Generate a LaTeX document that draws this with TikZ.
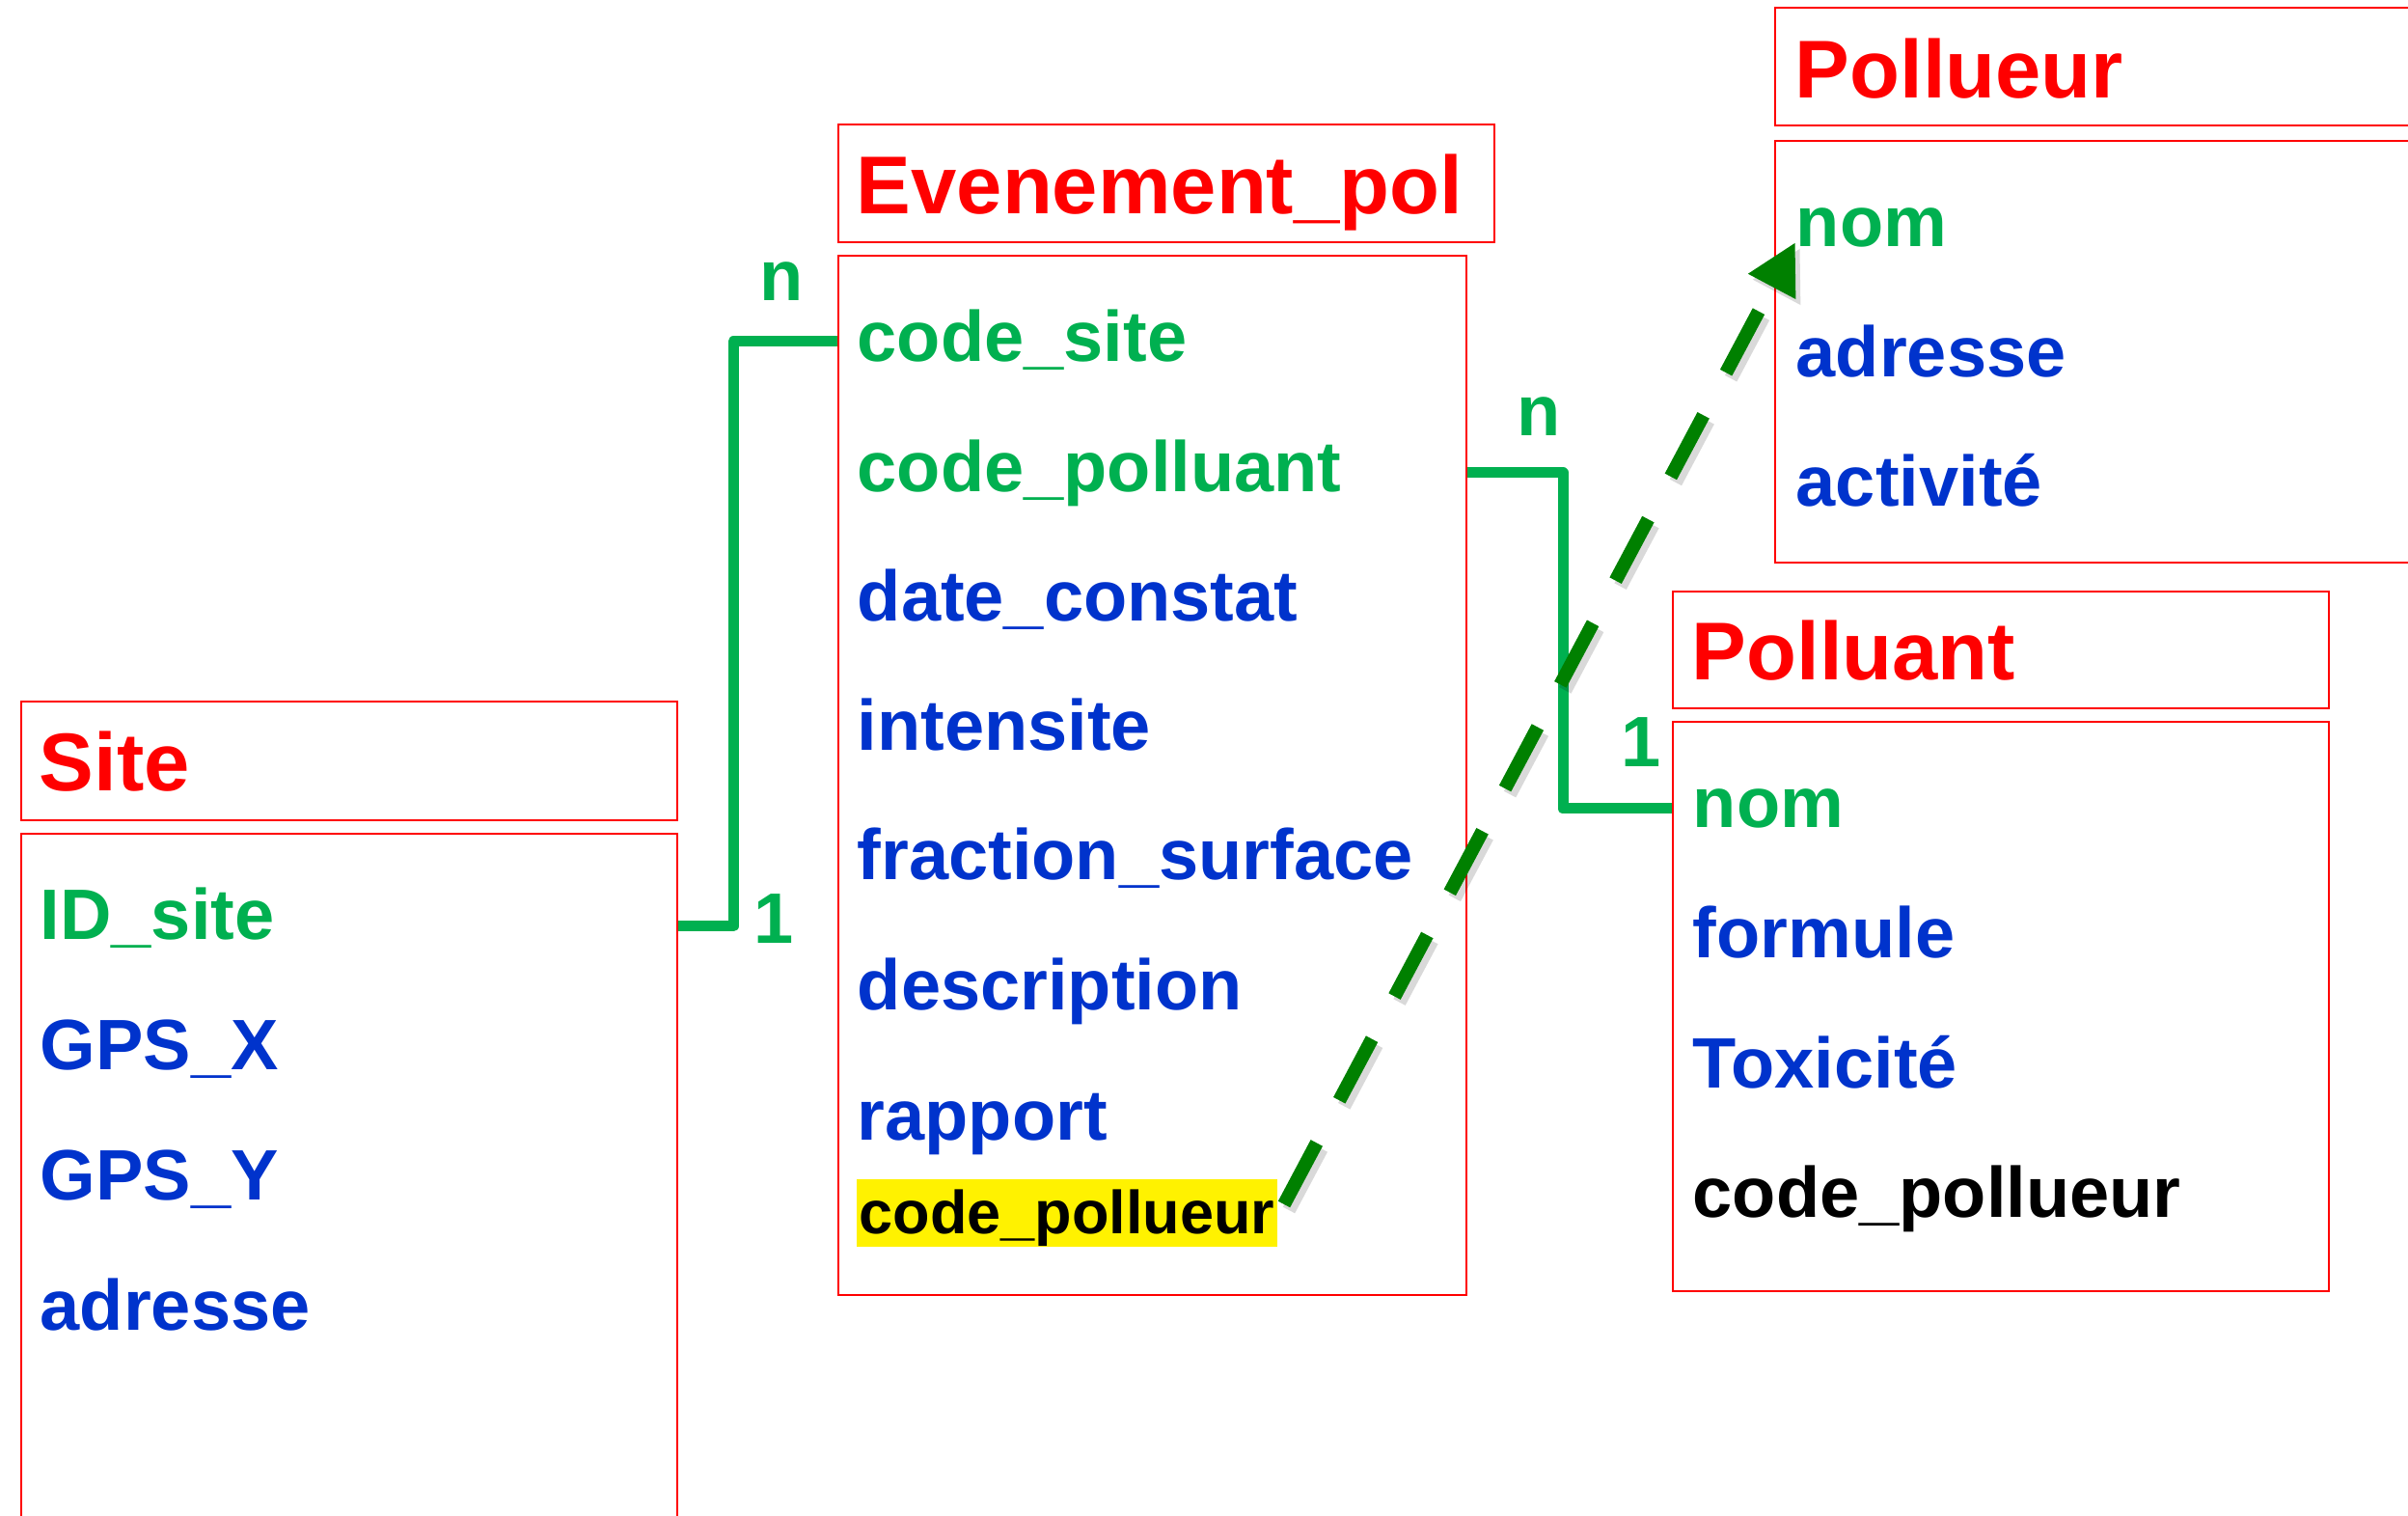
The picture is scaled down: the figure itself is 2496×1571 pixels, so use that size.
\documentclass[tikz,border=0pt]{standalone}
\usepackage{fontspec}
\setmainfont{Liberation Sans}
\usetikzlibrary{arrows.meta,fit,calc}
\definecolor{tred}{RGB}{255,0,0}
\definecolor{tgreen}{RGB}{0,176,80}
\definecolor{tblue}{RGB}{0,51,204}
\definecolor{dgreen}{RGB}{0,128,0}
\begin{document}
\begin{tikzpicture}[x=0.25pt,y=-0.25pt,
  box/.style={draw=tred, line width=0.6pt, inner sep=0pt},
  title/.style={anchor=base west, inner sep=0pt, text=tred, font=\fontsize{21.25pt}{26pt}\selectfont\bfseries},
  fld/.style={anchor=base west, inner sep=0pt, font=\fontsize{18.5pt}{22pt}\selectfont\bfseries},
  key/.style={fld, text=tgreen},
  att/.style={fld, text=tblue},
  plain/.style={fld, text=black},
  card/.style={anchor=base, inner sep=0pt, text=tgreen, font=\fontsize{18.5pt}{22pt}\selectfont\bfseries},
  conn/.style={draw=tgreen, line width=2.75pt, line join=round},
  fk/.style={line width=3.5pt, dash pattern=on 18pt off 12.5pt, -{Triangle[length=13pt,width=13pt]}},
]
\useasboundingbox (0,0) rectangle (2496,1571);
\clip (0,0) rectangle (2496,1571);
\fill[white] (0,0) rectangle (2496,1571);

% Site
\node[box, fit={(22,727) (702,850)}] (sitet) {};
\node[box, fit={(22,864) (702,1620)}] (siteb) {};
\node[title] (sitename) at (40,820) {Site};
\node[key] (idsite) at (41,974) {ID\_site};
\node[att] (gpsx) at (41,1108) {GPS\_X};
\node[att] (gpsy) at (41,1243) {GPS\_Y};
\node[att] (sadr) at (41,1378) {adresse};

% Evenement_pol
\node[box, fit={(869,129) (1549,251)}] (evt) {};
\node[box, fit={(869,265) (1520,1342)}] (evb) {};
\node[title] (evname) at (887,222) {Evenement\_pol};
\node[key] (evcs) at (888,375) {code\_site};
\node[key] (evcpl) at (888,509.5) {code\_polluant};
\node[att] (evdc) at (888,643.5) {date\_constat};
\node[att] (evin) at (888,778) {intensite};
\node[att] (evfs) at (888,912) {fraction\_surface};
\node[att] (evde) at (888,1046.5) {description};
\node[att] (evra) at (888,1181) {rapport};
\node[plain, fill=yellow, font=\fontsize{15.75pt}{19pt}\selectfont\bfseries, inner xsep=0.75pt, text height=14pt, text depth=3.5pt] (evcp) at (887,1278) {code\_pollueur};

% Pollueur
\node[box, fit={(1840,8) (2560,130)}] (plt) {};
\node[box, fit={(1840,146) (2560,583)}] (plb) {};
\node[title] (plname) at (1860,102) {Pollueur};
\node[key] (plnom) at (1861,256) {nom};
\node[att] (pladr) at (1861,390.5) {adresse};
\node[att] (plact) at (1861,525) {activité};

% Polluant
\node[box, fit={(1734,613) (2414,734)}] (pat) {};
\node[box, fit={(1734,748) (2414,1338)}] (pab) {};
\node[title] (paname) at (1753,705) {Polluant};
\node[key] (panom) at (1754,858) {nom};
\node[att] (pafo) at (1754,992) {formule};
\node[att] (pato) at (1754,1127) {Toxicité};
\node[plain] (pacp) at (1754,1261) {code\_pollueur};

% connectors
\coordinate (k1) at (760,354);
\coordinate (k2) at (1620,838);
\draw[conn] (siteb.east |- 0,960) -| (k1) -- (evb.west |- k1);
\draw[conn] (evb.east |- 0,490) -| (k2) -- (pab.west |- k2);
\node[card] (n1) at (810,312) {n};
\node[card] (o1) at (802,977) {1};
\node[card] (n2) at (1595,452) {n};
\node[card] (o2) at (1701,795) {1};

% foreign key arrow
\coordinate (fs) at (1331,1248);
\coordinate (fe) at (1861,251);
\draw[fk, draw=black, opacity=0.15] ($(fs)+(5,6)$) -- ($(fe)+(5,6)$);
\draw[fk, draw=dgreen] (fs) -- (fe);
\end{tikzpicture}
\end{document}
